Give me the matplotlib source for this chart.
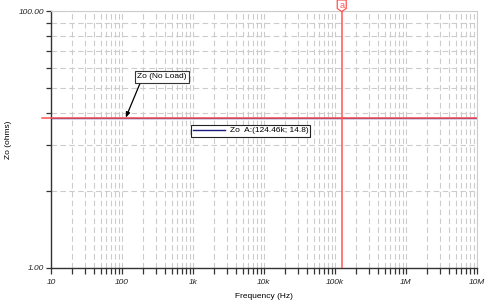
import matplotlib
matplotlib.use("Agg")
import matplotlib.pyplot as plt
from matplotlib.lines import Line2D
from matplotlib.patches import Polygon
import numpy as np

plt.rcParams['font.family'] = ['Liberation Sans', 'DejaVu Sans']

# ---- data ----
frequency = [10, 1e7]
impedance = [14.8, 14.8]
cursor_freq = 124.46e3
cursor_zo = 14.8
curve_label = "Zo (No Load)"
legend_label = "Zo  A:(124.46k; 14.8)"
x_ticks = [10, 100, 1e3, 1e4, 1e5, 1e6, 1e7]
x_tick_labels = ["10", "100", "1k", "10k", "100k", "1M", "10M"]
y_ticks = [1, 4, 9, 16, 25, 36, 49, 64, 81, 100]
y_tick_labels = ["1.00", "", "", "", "", "", "", "", "", "100.00"]
annot_freq = 113

W, H = 500, 307
fig = plt.figure(figsize=(W / 100, H / 100), dpi=100)
ax = fig.add_axes([51 / W, 1 - 268 / H, (477 - 51) / W, (268 - 11) / H])

ax.set_xscale('log')
ax.set_yscale('log')
ax.set_xlim(frequency[0], frequency[-1])
ax.set_ylim(1, 100)

grid_c = '#cccccc'
minor_x = [m * 10 ** e for e in range(1, 7) for m in range(2, 10)]
ax.set_xticks(x_ticks)
ax.set_xticklabels(x_tick_labels)
ax.set_xticks(minor_x, minor=True)
ax.set_xticklabels([], minor=True)
ax.set_yticks(y_ticks)
ax.set_yticklabels(y_tick_labels)
ax.yaxis.set_minor_locator(matplotlib.ticker.NullLocator())

for lab in ax.get_xticklabels() + ax.get_yticklabels():
    lab.set_fontstyle('italic')
ax.tick_params(axis='x', which='both', direction='out', length=4, width=0.9,
               color='#333333', labelsize=6, pad=4, labelcolor='#222222')
ax.tick_params(axis='y', which='both', direction='out', length=3.5, width=0.9,
               color='#333333', labelsize=6, pad=1.5, labelcolor='#222222')

for xv in x_ticks + minor_x:
    ax.axvline(xv, color=grid_c, lw=0.8, ls=(0, (5, 3)), zorder=0)
for yv in y_ticks:
    ax.axhline(yv, color=grid_c, lw=0.8, ls=(0, (5, 3)), zorder=0)

for s in ['top', 'right']:
    ax.spines[s].set_color(grid_c)
    ax.spines[s].set_linewidth(0.8)
for s in ['left', 'bottom']:
    ax.spines[s].set_color('#333333')
    ax.spines[s].set_linewidth(1.0)

ax.set_xlabel("Frequency (Hz)", fontsize=6, labelpad=5)
ax.set_ylabel("Zo (ohms)", fontsize=6, labelpad=5)

# data curve
ax.plot(frequency, impedance, color='#1a1a80', lw=1.0, zorder=2)

# cursor lines
ax.axhline(cursor_zo, color='#ff5555', lw=1.1, zorder=3)
hl = Line2D([-0.022, 0.0], [cursor_zo, cursor_zo], color='#ff5555', lw=1.1,
            transform=matplotlib.transforms.blended_transform_factory(ax.transAxes, ax.transData),
            clip_on=False)
ax.add_line(hl)
ax.axvline(cursor_freq, color='#ff5555', lw=1.1, zorder=3)

# cursor marker "a"
fig.canvas.draw()
px, _ = ax.transData.transform((cursor_freq, 1))
verts_px = [(px - 4.5, H), (px + 4.5, H), (px + 4.5, H - 8.5), (px, H - 11.5), (px - 4.5, H - 8.5)]
verts = [(vx / W, vy / H) for vx, vy in verts_px]
poly = Polygon(verts, closed=True, transform=fig.transFigure, fc='white', ec='#ff5555', lw=0.9)
fig.add_artist(poly)
fig.text(px / W, (H - 5) / H, "a", color='#ff5555', fontsize=6.5, ha='center', va='center')

# annotation
ax.annotate(curve_label, xy=(annot_freq, cursor_zo), xytext=(162, H - 77),
            textcoords='figure pixels', fontsize=6, ha='center', va='center',
            bbox=dict(boxstyle='square,pad=0.25', fc='white', ec='#333333', lw=0.8),
            arrowprops=dict(arrowstyle='-|>,head_length=0.5,head_width=0.2', color='black',
                            lw=0.9, relpos=(0.08, 0.0), shrinkA=0, shrinkB=0),
            zorder=5)

# legend
handle = Line2D([], [], color='#1a1a80', lw=1.0)
leg = fig.legend([handle], [legend_label], loc='upper left',
                 bbox_to_anchor=(191 / W, 1 - 124.5 / H), fontsize=6,
                 fancybox=False, framealpha=1, edgecolor='#222222',
                 handlelength=3.8, handletextpad=0.6, borderpad=0.25,
                 borderaxespad=0)
leg.get_frame().set_linewidth(0.8)

fig.savefig("out.png", dpi=100)
